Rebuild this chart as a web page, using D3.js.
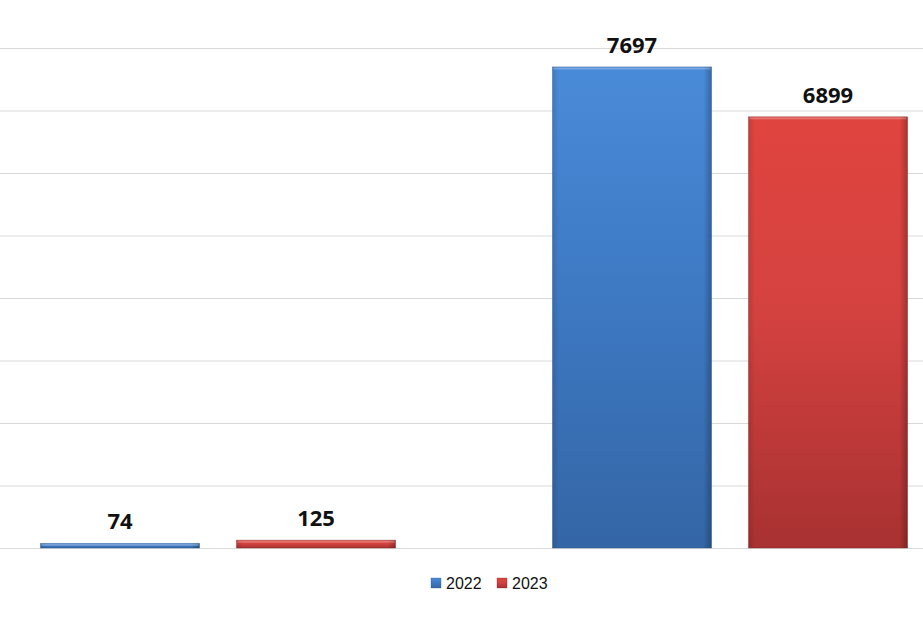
<!DOCTYPE html>
<html>
<head>
<meta charset="utf-8">
<script src="https://cdn.jsdelivr.net/npm/d3@7"></script>
<style>
  body { margin: 0; background: #fff; }
  svg { display: block; }
  .grid line { stroke: #d9d9d9; stroke-width: 1.2; }
  .grid .domain { display: none; }
  .grid text { display: none; }
</style>
</head>
<body>
<div id="chart"></div>
<script>
// Data
let categories = ["A", "B"];
let series = ["2022", "2023"];
let values2022 = [74, 7697];
let values2023 = [125, 6899];
let yTicks = [0, 1000, 2000, 3000, 4000, 5000, 6000, 7000, 8000];

let svgWidth = 923;
let svgHeight = 630;

let svg = d3.select("#chart").append("svg")
  .attr("width", svgWidth)
  .attr("height", svgHeight);

let baseY = 548;
let topY = 48;

let yScale = d3.scaleLinear().domain([0, 8000]).range([baseY, topY]);
let x0 = d3.scaleBand().domain(categories).range([-38, 986]);
let x1 = d3.scaleBand().domain(series).range([78.5, 433.5]).paddingInner(0.189);

let colors = {
  "2022": { top: "#4a8bd9", mid: "#3e7ac4", bot: "#3466a6", edge: "#28508a" },
  "2023": { top: "#e0443f", mid: "#d44240", bot: "#a83131", edge: "#7e2424" }
};

// Gradients
let defs = svg.append("defs");
series.forEach(s => {
  let g = defs.append("linearGradient")
    .attr("id", "grad" + s)
    .attr("x1", 0).attr("y1", 0).attr("x2", 0).attr("y2", 1);
  g.append("stop").attr("offset", "0%").attr("stop-color", colors[s].top);
  g.append("stop").attr("offset", "45%").attr("stop-color", colors[s].mid);
  g.append("stop").attr("offset", "100%").attr("stop-color", colors[s].bot);

  let h = defs.append("linearGradient")
    .attr("id", "side" + s)
    .attr("x1", 0).attr("y1", 0).attr("x2", 1).attr("y2", 0);
  h.append("stop").attr("offset", "0%").attr("stop-color", "#000").attr("stop-opacity", 0.12);
  h.append("stop").attr("offset", "4%").attr("stop-color", "#000").attr("stop-opacity", 0);
  h.append("stop").attr("offset", "95%").attr("stop-color", "#000").attr("stop-opacity", 0);
  h.append("stop").attr("offset", "100%").attr("stop-color", "#000").attr("stop-opacity", 0.25);
});

// Gridlines
svg.append("g")
  .attr("class", "grid")
  .call(d3.axisLeft(yScale).tickValues(yTicks).tickSize(-svgWidth).tickSizeOuter(0));

// Bars
let rows = [];
categories.forEach((c, i) => {
  rows.push({ cat: c, s: "2022", v: values2022[i] });
  rows.push({ cat: c, s: "2023", v: values2023[i] });
});

let bars = svg.append("g").selectAll("g.bar")
  .data(rows)
  .enter()
  .append("g")
  .attr("class", "bar")
  .attr("transform", d => `translate(${x0(d.cat) + x1(d.s)}, 0)`);

bars.append("rect")
  .attr("x", 0)
  .attr("y", d => yScale(d.v))
  .attr("width", x1.bandwidth())
  .attr("height", d => baseY - yScale(d.v))
  .attr("fill", d => `url(#grad${d.s})`)
  .attr("stroke", d => colors[d.s].edge)
  .attr("stroke-opacity", 0.5)
  .attr("stroke-width", 0.8);

bars.append("rect")
  .attr("x", 0)
  .attr("y", d => yScale(d.v))
  .attr("width", x1.bandwidth())
  .attr("height", d => baseY - yScale(d.v))
  .attr("fill", d => `url(#side${d.s})`);

// top highlight
bars.append("rect")
  .attr("x", 1)
  .attr("y", d => yScale(d.v) + 0.5)
  .attr("width", x1.bandwidth() - 2)
  .attr("height", d => Math.min(2, baseY - yScale(d.v) - 1))
  .attr("fill", "#fff")
  .attr("fill-opacity", 0.25);

// Value labels
bars.append("text")
  .attr("x", x1.bandwidth() / 2)
  .attr("y", d => yScale(d.v) - 14)
  .attr("text-anchor", "middle")
  .attr("font-family", "'Open Sans', 'Liberation Sans', sans-serif")
  .attr("font-weight", 700)
  .attr("font-size", "22px")
  .attr("fill", "#111")
  .text(d => d.v);

// Legend
let legend = svg.append("g").attr("transform", "translate(431, 578)");
let legendX = [0, 66];
series.forEach((s, i) => {
  let lg = legend.append("g").attr("transform", `translate(${legendX[i]}, 0)`);
  lg.append("rect")
    .attr("width", 10).attr("height", 10)
    .attr("fill", `url(#grad${s})`)
    .attr("stroke", colors[s].edge)
    .attr("stroke-opacity", 0.5)
    .attr("stroke-width", 0.6);
  lg.append("text")
    .attr("x", 15)
    .attr("y", 11)
    .attr("font-family", "'Liberation Sans', Arial, sans-serif")
    .attr("font-size", "16px")
    .attr("fill", "#111")
    .text(s);
});
</script>
</body>
</html>
